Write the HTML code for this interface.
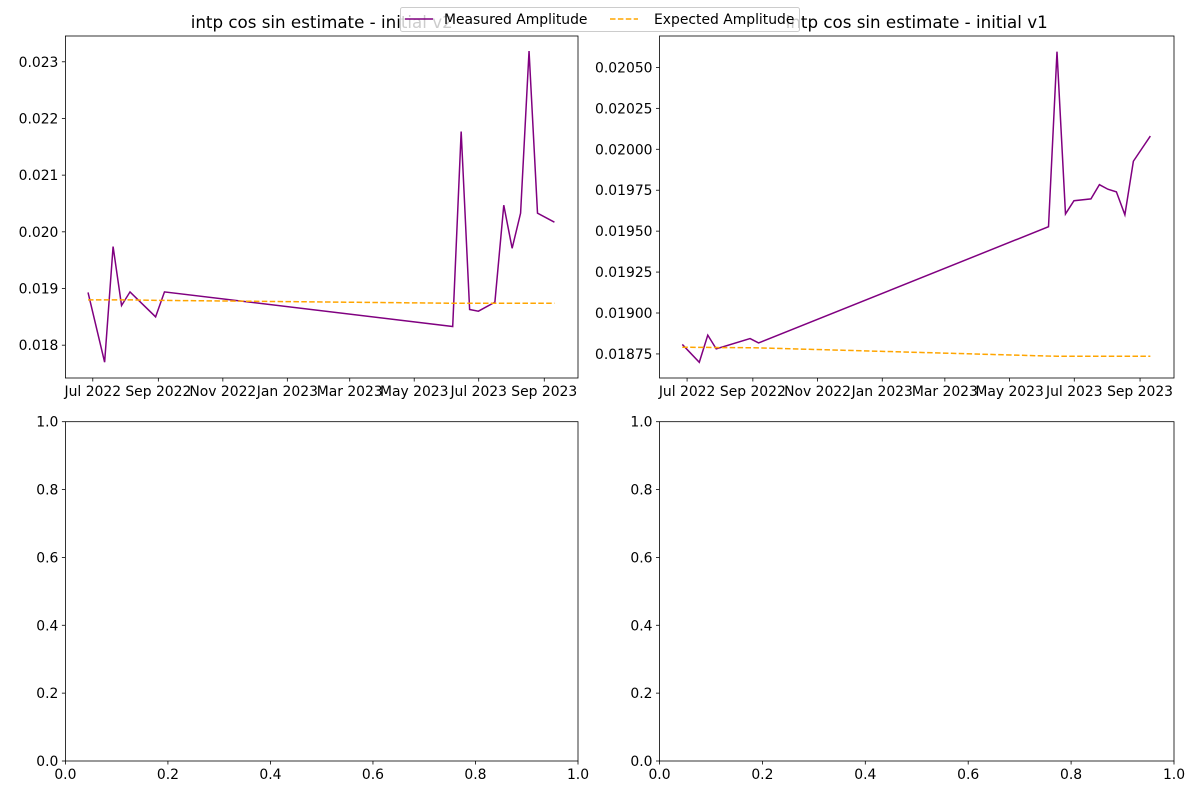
<!DOCTYPE html>
<html><head><meta charset="utf-8"><style>
html,body{margin:0;padding:0;background:#fff;}
svg{display:block;font-family:"DejaVu Sans","Liberation Sans",sans-serif;}
</style></head><body>
<svg id="fig" width="1200" height="800"></svg>
<script>
const dayOffsetsV2 = [-4.5, 11.2, 19.2, 27.2, 35.2, 59.4, 67.8, 340.4, 348.4, 356.4, 364.7, 380.3, 388.7, 396.6, 404.6, 412.6, 420.6, 436.6];
const measuredV2 = [0.01893, 0.01770, 0.01974, 0.01870, 0.01894, 0.01850, 0.01894, 0.01833, 0.02177, 0.01863, 0.01860, 0.01876, 0.02047, 0.01971, 0.02033, 0.02319, 0.02033, 0.02017];
const expectedV2 = [0.01880, 0.01880, 0.01880, 0.01880, 0.01880, 0.01879, 0.01879, 0.01874, 0.01874, 0.01874, 0.01874, 0.01874, 0.01874, 0.01874, 0.01874, 0.01874, 0.01874, 0.01874];
const dayOffsetsV1 = [-4.5, 11.5, 19.5, 27.5, 59.4, 67.4, 340.7, 348.7, 356.7, 364.7, 380.7, 388.7, 396.7, 404.7, 412.7, 420.7, 436.7];
const measuredV1 = [0.018808, 0.018699, 0.018865, 0.018781, 0.018844, 0.018817, 0.019527, 0.020596, 0.019605, 0.019686, 0.019697, 0.019784, 0.019756, 0.019740, 0.019600, 0.019927, 0.020081];
const expectedV1 = [0.018791, 0.018790, 0.018790, 0.018789, 0.018788, 0.018787, 0.018737, 0.018736, 0.018736, 0.018736, 0.018736, 0.018736, 0.018736, 0.018736, 0.018736, 0.018736, 0.018736];
const dateTickLabels = ["Jul 2022","Sep 2022","Nov 2022","Jan 2023","Mar 2023","May 2023","Jul 2023","Sep 2023"];
const dateTickDays = [0, 62, 123, 184, 243, 304, 365, 427];
const yTicksV2 = [0.018, 0.019, 0.020, 0.021, 0.022, 0.023];
const yTicksV1 = [0.01875, 0.01900, 0.01925, 0.01950, 0.01975, 0.02000, 0.02025, 0.02050];
const unitTicks = [0, 0.2, 0.4, 0.6, 0.8, 1.0];

const NS = "http://www.w3.org/2000/svg";
const svg = document.getElementById("fig");
function mk(tag, attrs, parent) {
  const e = document.createElementNS(NS, tag);
  for (const k in attrs) e.setAttribute(k, attrs[k]);
  (parent || svg).appendChild(e);
  return e;
}
function txt(s, attrs, parent) { const t = mk("text", attrs, parent); t.textContent = s; return t; }

function axes(name, x0, y0, x1, y1, xd, yd, xt, xl, yt, yl) {
  const g = mk("g", {});
  
  
  const sx = v => x0 + (v - xd[0]) / (xd[1] - xd[0]) * (x1 - x0);
  const sy = v => y1 - (v - yd[0]) / (yd[1] - yd[0]) * (y1 - y0);
  xt.forEach((v, i) => {
    const x = sx(v);
    mk("line", {x1: x, x2: x, y1: y1, y2: y1 + 3.5, stroke: "#000", "stroke-width": 0.8}, g);
    const t = txt(xl[i], {x: x, y: y1 + 18, "text-anchor": "middle", "font-size": 13.9, fill: "#000"}, g);
    
    
  });
  yt.forEach((v, i) => {
    const y = sy(v);
    mk("line", {x1: x0 - 3.5, x2: x0, y1: y, y2: y, stroke: "#000", "stroke-width": 0.8}, g);
    const t = txt(yl[i], {x: x0 - 7, y: y + 5, "text-anchor": "end", "font-size": 13.9, fill: "#000"}, g);
    
    
  });
  return {g, sx, sy, frame: () => mk("rect", {x: x0, y: y0, width: x1 - x0, height: y1 - y0, fill: "none", stroke: "#000", "stroke-width": 0.8}, g)};
}
function series(ax, xs, ys, color, dash, name) {
  const p = mk("polyline", {points: xs.map((d, i) => ax.sx(d) + "," + ax.sy(ys[i])).join(" "), fill: "none", stroke: color, "stroke-width": 1.5, "stroke-dasharray": dash || "none"}, ax.g);
  
  
}

// top-left
const a1 = axes("chart-initial-v2", 65.4, 36, 578, 378, [-25.9, 458.9], [0.017421, 0.023455],
  dateTickDays, dateTickLabels, yTicksV2, yTicksV2.map(v => v.toFixed(3)));
series(a1, dayOffsetsV2, measuredV2, "purple", null, "measured-amplitude-line-v2");
series(a1, dayOffsetsV2, expectedV2, "orange", "5.5,2.4", "expected-amplitude-line-v2");
a1.frame();
const t1 = txt("intp cos sin estimate - initial v2", {x: 321.7, y: 28, "text-anchor": "middle", "font-size": 16.7});
 

// top-right
const a2 = axes("chart-initial-v1", 659.5, 36, 1174, 378, [-26, 459], [0.018603, 0.020692],
  dateTickDays, dateTickLabels, yTicksV1, yTicksV1.map(v => v.toFixed(5)));
series(a2, dayOffsetsV1, measuredV1, "purple", null, "measured-amplitude-line-v1");
series(a2, dayOffsetsV1, expectedV1, "orange", "5.5,2.4", "expected-amplitude-line-v1");
a2.frame();
const t2 = txt("intp cos sin estimate - initial v1", {x: 916.7, y: 28, "text-anchor": "middle", "font-size": 16.7});
 

// bottom empties
const a3 = axes("empty-chart-bottom-left", 65.4, 421.7, 578, 761, [0, 1], [0, 1], unitTicks, unitTicks.map(v => v.toFixed(1)), unitTicks, unitTicks.map(v => v.toFixed(1)));
a3.frame();
const a4 = axes("empty-chart-bottom-right", 659.5, 421.7, 1174, 761, [0, 1], [0, 1], unitTicks, unitTicks.map(v => v.toFixed(1)), unitTicks, unitTicks.map(v => v.toFixed(1)));
a4.frame();

// legend
const lg = mk("g", {});


mk("rect", {x: 400.5, y: 7.5, width: 399, height: 24, rx: 2, fill: "#fff", "fill-opacity": 0.8, stroke: "#ccc", "stroke-width": 1}, lg);
mk("line", {x1: 405, x2: 433, y1: 19, y2: 19, stroke: "purple", "stroke-width": 1.5}, lg);
const l1 = txt("Measured Amplitude", {x: 444, y: 24, "font-size": 13.9}, lg);
 
mk("line", {x1: 610, x2: 638, y1: 19, y2: 19, stroke: "orange", "stroke-width": 1.5, "stroke-dasharray": "5.5,2.4"}, lg);
const l2 = txt("Expected Amplitude", {x: 654, y: 24, "font-size": 13.9}, lg);
 
</script>
</body></html>
